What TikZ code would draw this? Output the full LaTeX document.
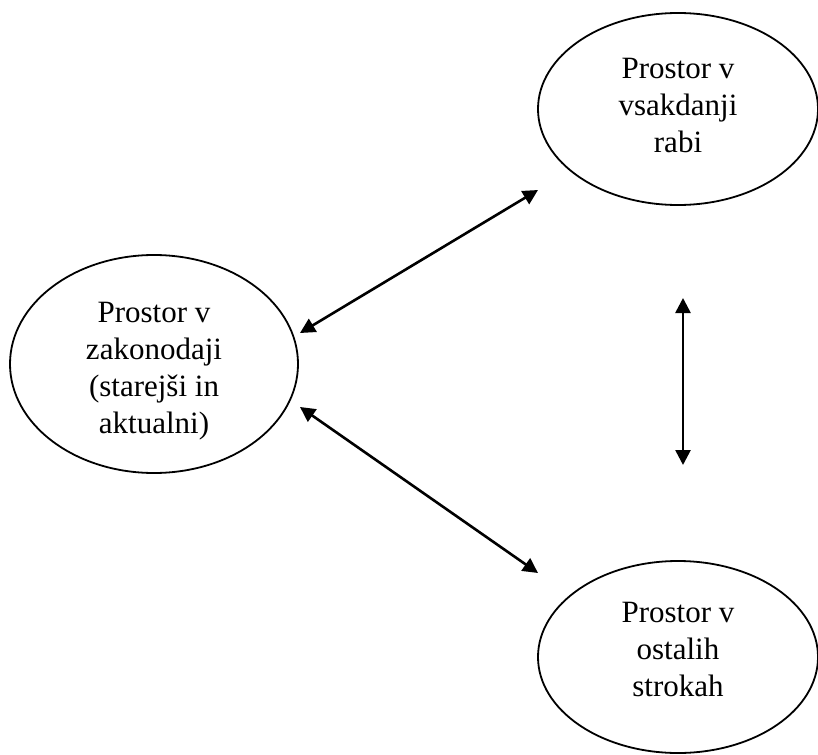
\documentclass[tikz,border=0pt]{standalone}
\usepackage{fontspec}
\setmainfont{Liberation Serif}
\usetikzlibrary{shapes.geometric, arrows.meta}

\begin{document}
\begin{tikzpicture}[x=1pt, y=-1pt, >={Triangle[length=15pt, width=15pt]}]
    \tikzstyle{field} = [draw, line width=1.8pt, ellipse, inner sep=0pt, align=center, font=\fontsize{31}{37}\selectfont]
    \useasboundingbox (0,0) rectangle (818,754);

    \coordinate (zakonUp) at (300,333);
    \coordinate (vsakEnd) at (538,190);
    \coordinate (zakonDown) at (300,407);
    \coordinate (strokEnd) at (538,573);
    \coordinate (midTop) at (683,298);
    \coordinate (midBot) at (683,465);

    \begin{scope}
        \path[<->, line width=2.6pt]
            node[field, minimum width=288pt, minimum height=218pt] (zakon) at (154,364) {\rule{0pt}{34pt}Prostor v\\zakonodaji\\(starejši in\\aktualni)}
            node[field, minimum width=280pt, minimum height=192pt] (vsak) at (678,109) {Prostor v\\vsakdanji\\rabi\rule[-7pt]{0pt}{7pt}}
            node[field, minimum width=280pt, minimum height=192pt] (strok) at (678,657) {Prostor v\\ostalih\\strokah\rule[-15pt]{0pt}{15pt}}

            (zakonUp) edge (vsakEnd)
            (zakonDown) edge (strokEnd)
            (midTop) edge (midBot)
            ;
    \end{scope}
\end{tikzpicture}
\end{document}
